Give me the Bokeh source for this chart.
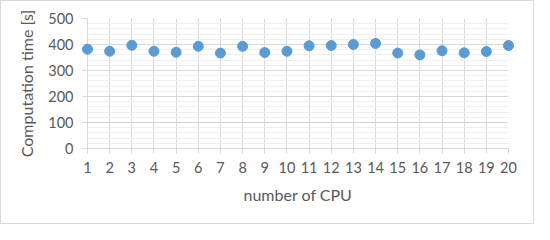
from bokeh.plotting import figure
from bokeh.models import Range1d, FixedTicker, SingleIntervalTicker
from bokeh.embed import file_html
from bokeh.resources import INLINE

cpus = list(range(1, 21))
times = [382, 374, 397, 374, 370, 393, 367, 393, 369, 374,
         395, 396, 400, 404, 367, 360, 376, 368, 373, 396]
x_ticks = list(range(1, 21))

p = figure(width=534, height=224, output_backend="svg", toolbar_location=None,
           x_range=Range1d(1, 20), y_range=Range1d(0, 500),
           min_border_left=86, min_border_right=27, min_border_top=17, min_border_bottom=77)
p.styles = {"border": "1px solid #d9d9d9", "box-sizing": "border-box"}
p.outline_line_color = None
p.background_fill_color = "white"

FONT = "Lato"
TICK_C = "#595959"

p.xaxis.ticker = FixedTicker(ticks=x_ticks)
p.yaxis.ticker = SingleIntervalTicker(interval=100, num_minor_ticks=5)

for ax in (p.xaxis[0], p.yaxis[0]):
    ax.axis_line_color = "#d9d9d9"
    ax.major_tick_line_color = "#d9d9d9"
    ax.major_tick_out = 5
    ax.major_tick_in = 0
    ax.minor_tick_line_color = None
    ax.major_label_text_font = FONT
    ax.major_label_text_font_size = "14.5px"
    ax.major_label_text_color = TICK_C
    ax.axis_label_text_font = FONT
    ax.axis_label_text_font_size = "16px"
    ax.axis_label_text_color = TICK_C
    ax.axis_label_text_font_style = "normal"
    ax.major_label_standoff = 8
    ax.axis_label_standoff = 9

p.yaxis.major_label_standoff = 9

p.xaxis.axis_label = "number of CPU"
p.yaxis.axis_label = "Computation time [s]"

p.xgrid.grid_line_color = "#d9d9d9"
p.ygrid.grid_line_color = "#d9d9d9"
p.ygrid.minor_grid_line_color = "#efefef"

p.scatter(cpus, times, size=10, fill_color="#5B9BD5", line_color="#5B9BD5", level="overlay")

open("out.html", "w").write(file_html(p, INLINE))
